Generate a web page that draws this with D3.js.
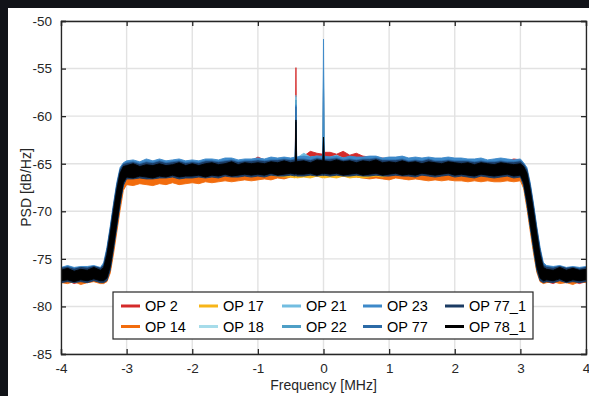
<!DOCTYPE html>
<html><head><meta charset="utf-8">
<script src="https://cdn.jsdelivr.net/npm/d3@7"></script>
<style>body{margin:0;background:#111318;} svg{display:block}</style>
</head><body>
<svg id="chart" width="589" height="396"></svg>
<script>
// Frequency grid [MHz]
const freq = [
-4.0,-3.9,-3.8,-3.7,-3.6,-3.5,-3.4,
-3.35,-3.3,-3.25,-3.2,-3.15,-3.1,-3.05,
-3.0,-2.9,-2.8,-2.7,-2.6,-2.5,-2.4,-2.3,-2.2,-2.1,
-2.0,-1.9,-1.8,-1.7,-1.6,-1.5,-1.4,-1.3,-1.2,-1.1,
-1.0,-0.9,-0.8,-0.7,-0.6,-0.5,
-0.43,-0.42,-0.41,
-0.3,-0.2,-0.1,
-0.01,0,0.01,
0.1,0.2,0.3,0.4,0.5,0.6,0.7,0.8,0.9,1.0,
1.1,1.2,1.3,1.4,1.5,1.6,1.7,1.8,1.9,2.0,
2.1,2.2,2.3,2.4,2.5,2.6,2.7,2.8,2.9,3.0,
3.05,3.1,3.15,3.2,3.25,3.3,3.35,
3.4,3.5,3.6,3.7,3.8,3.9,4.0];

// Upper / lower edges of each PSD trace [dB/Hz]
const op2Hi = [
-76.1,-76.0,-76.2,-76.0,-76.1,-75.9,-76.1,
-75.8,-74.5,-72.5,-70.2,-68.0,-66.2,-65.4,
-65.1,-65.0,-65.2,-65.0,-65.1,-64.9,-65.1,-65.0,-64.9,-65.1,
-65.0,-65.0,-64.9,-64.8,-64.9,-64.8,-64.7,-64.9,-64.8,-64.7,
-64.3,-64.6,-64.5,-64.5,-64.4,-64.5,
-64.4,-54.9,-64.4,
-64.2,-63.7,-63.9,
-64.0,-57.0,-63.8,
-63.8,-64.0,-63.7,-64.1,-63.9,-64.2,-64.3,-64.5,-64.4,-64.6,
-64.6,-64.7,-64.6,-64.8,-64.7,-64.8,-64.7,-64.8,-64.8,-64.7,
-64.8,-64.7,-64.8,-64.7,-64.8,-64.6,-64.5,-64.7,-64.5,-64.6,
-65.0,-65.8,-67.6,-69.8,-72.2,-74.4,-75.8,
-76.0,-76.1,-75.9,-76.2,-76.0,-76.1,-76.0];
const op2Lo = [
-77.5,-77.3,-77.6,-77.4,-77.5,-77.3,-77.4,
-77.4,-77.1,-76.0,-73.8,-71.5,-69.1,-67.2,
-66.5,-66.5,-66.4,-66.5,-66.5,-66.4,-66.4,-66.3,-66.5,-66.4,
-66.4,-66.3,-66.4,-66.3,-66.4,-66.2,-66.3,-66.3,-66.2,-66.3,
-66.2,-66.3,-66.1,-66.2,-66.2,-66.1,
-66.2,-66.1,-66.2,
-66.2,-66.1,-66.2,
-66.1,-66.2,-66.1,
-66.2,-66.1,-66.2,-66.2,-66.1,-66.2,-66.2,-66.1,-66.2,-66.2,
-66.1,-66.2,-66.2,-66.3,-66.1,-66.2,-66.3,-66.2,-66.1,-66.3,
-66.2,-66.3,-66.4,-66.2,-66.3,-66.4,-66.3,-66.2,-66.4,-66.3,
-67.2,-69.1,-71.5,-73.8,-76.0,-77.2,-77.5,
-77.4,-77.6,-77.3,-77.5,-77.4,-77.6,-77.4];

const op14Hi = [
-76.1,-75.9,-76.2,-76.0,-76.1,-75.9,-76.1,
-75.9,-74.8,-72.9,-70.7,-68.6,-66.8,-66.0,
-65.8,-65.7,-65.9,-65.7,-65.8,-65.6,-65.8,-65.7,-65.6,-65.7,
-65.6,-65.7,-65.6,-65.5,-65.6,-65.5,-65.4,-65.6,-65.5,-65.5,
-65.4,-65.5,-65.3,-65.4,-65.3,-65.4,
-65.3,-61.0,-65.3,
-65.3,-65.2,-65.3,
-65.2,-60.0,-65.2,
-65.3,-65.2,-65.4,-65.3,-65.3,-65.4,-65.4,-65.3,-65.5,-65.4,
-65.4,-65.5,-65.4,-65.5,-65.6,-65.5,-65.6,-65.5,-65.6,-65.6,
-65.6,-65.7,-65.6,-65.7,-65.8,-65.7,-65.6,-65.7,-65.8,-65.7,
-66.0,-66.8,-68.6,-70.7,-72.9,-74.8,-75.9,
-76.0,-76.1,-75.9,-76.2,-76.0,-76.1,-76.0];
const op14Lo = [
-77.5,-77.6,-77.4,-77.7,-77.5,-77.4,-77.6,
-77.6,-77.4,-76.5,-74.5,-72.2,-69.9,-67.8,
-67.2,-67.3,-67.1,-67.2,-67.3,-67.1,-67.2,-67.0,-67.2,-67.1,
-67.0,-67.1,-66.9,-67.0,-66.9,-66.8,-66.9,-66.8,-66.7,-66.8,
-66.7,-66.6,-66.7,-66.5,-66.6,-66.4,
-66.4,-66.3,-66.4,
-66.3,-66.2,-66.3,
-66.2,-66.3,-66.2,
-66.3,-66.2,-66.3,-66.4,-66.4,-66.5,-66.6,-66.5,-66.6,-66.7,
-66.5,-66.6,-66.7,-66.6,-66.7,-66.8,-66.7,-66.8,-66.7,-66.8,
-66.8,-66.9,-66.8,-66.9,-66.8,-66.9,-66.9,-66.8,-66.9,-66.8,
-67.6,-69.7,-72.1,-74.4,-76.4,-77.4,-77.6,
-77.5,-77.4,-77.6,-77.5,-77.7,-77.4,-77.5];

const op17Hi = [
-76.2,-76.0,-76.2,-76.1,-76.1,-76.0,-76.2,
-75.9,-74.7,-72.7,-70.4,-68.2,-66.4,-65.6,
-65.4,-65.3,-65.5,-65.3,-65.4,-65.2,-65.4,-65.3,-65.2,-65.4,
-65.3,-65.4,-65.2,-65.2,-65.3,-65.2,-65.1,-65.3,-65.2,-65.2,
-65.1,-65.2,-65.0,-65.1,-65.0,-65.1,
-65.0,-60.5,-65.0,
-65.0,-65.1,-64.9,
-65.0,-59.0,-65.0,
-65.0,-64.9,-65.1,-65.0,-65.1,-65.0,-65.0,-64.9,-65.1,-65.1,
-65.1,-65.0,-65.2,-65.1,-65.2,-65.0,-65.2,-65.2,-65.1,-65.2,
-65.2,-65.2,-65.3,-65.2,-65.3,-65.3,-65.2,-65.3,-65.3,-65.2,
-65.6,-66.4,-68.2,-70.4,-72.7,-74.7,-75.9,
-76.0,-76.1,-76.0,-76.2,-76.1,-76.2,-76.1];
const op17Lo = [
-77.4,-77.3,-77.5,-77.3,-77.4,-77.2,-77.4,
-77.4,-77.1,-76.0,-73.8,-71.5,-69.1,-67.2,
-66.5,-66.5,-66.4,-66.5,-66.5,-66.4,-66.4,-66.3,-66.5,-66.4,
-66.4,-66.3,-66.4,-66.3,-66.4,-66.2,-66.3,-66.3,-66.2,-66.3,
-66.2,-66.3,-66.2,-66.3,-66.4,-66.4,
-66.5,-66.4,-66.5,
-66.4,-66.5,-66.3,
-66.5,-66.4,-66.5,
-66.4,-66.5,-66.3,-66.5,-66.4,-66.5,-66.4,-66.3,-66.4,-66.2,
-66.1,-66.2,-66.2,-66.3,-66.1,-66.2,-66.3,-66.2,-66.1,-66.3,
-66.2,-66.3,-66.4,-66.2,-66.3,-66.4,-66.3,-66.2,-66.4,-66.3,
-67.3,-69.3,-71.7,-74.0,-76.2,-77.2,-77.4,
-77.3,-77.4,-77.2,-77.4,-77.3,-77.4,-77.3];

const op18Hi = [
-76.1,-75.9,-76.1,-76.0,-76.0,-75.9,-76.1,
-75.8,-74.3,-72.2,-69.8,-67.6,-65.9,-65.2,
-65.0,-64.9,-65.1,-64.9,-65.0,-64.8,-65.0,-64.9,-64.8,-65.0,
-64.9,-64.9,-64.8,-64.8,-64.9,-64.8,-64.7,-64.9,-64.8,-64.8,
-64.7,-64.7,-64.6,-64.6,-64.5,-64.6,
-64.5,-58.0,-64.5,
-64.5,-64.5,-64.4,
-64.5,-57.0,-64.5,
-64.5,-64.5,-64.6,-64.5,-64.6,-64.6,-64.5,-64.5,-64.6,-64.6,
-64.7,-64.6,-64.7,-64.7,-64.8,-64.6,-64.7,-64.8,-64.7,-64.8,
-64.8,-64.8,-64.9,-64.8,-64.9,-64.9,-64.8,-64.9,-64.9,-64.8,
-65.2,-65.9,-67.6,-69.8,-72.2,-74.3,-75.8,
-76.0,-76.1,-75.9,-76.1,-76.0,-76.1,-76.0];
const op18Lo = [
-77.3,-77.2,-77.3,-77.2,-77.3,-77.1,-77.3,
-77.3,-77.0,-75.9,-73.7,-71.4,-69.0,-67.1,
-66.4,-66.4,-66.3,-66.4,-66.4,-66.3,-66.3,-66.2,-66.4,-66.3,
-66.3,-66.2,-66.3,-66.2,-66.3,-66.1,-66.2,-66.2,-66.1,-66.2,
-66.1,-66.2,-66.0,-66.1,-66.1,-66.0,
-66.1,-66.0,-66.1,
-66.1,-66.0,-66.1,
-66.0,-66.1,-66.0,
-66.1,-66.0,-66.1,-66.1,-66.0,-66.1,-66.1,-66.0,-66.1,-66.1,
-66.0,-66.1,-66.1,-66.2,-66.0,-66.1,-66.2,-66.1,-66.0,-66.2,
-66.1,-66.2,-66.3,-66.1,-66.2,-66.3,-66.2,-66.1,-66.3,-66.2,
-67.1,-69.0,-71.4,-73.7,-75.9,-77.0,-77.3,
-77.2,-77.3,-77.1,-77.3,-77.2,-77.3,-77.2];

const op21Hi = [
-76.0,-75.9,-76.0,-75.9,-76.1,-75.8,-76.0,
-75.7,-74.2,-72.1,-69.7,-67.5,-65.8,-65.1,
-64.9,-64.8,-65.0,-64.8,-64.9,-64.7,-64.9,-64.8,-64.7,-64.9,
-64.8,-64.8,-64.7,-64.7,-64.8,-64.6,-64.6,-64.8,-64.7,-64.7,
-64.6,-64.6,-64.5,-64.5,-64.4,-64.5,
-64.4,-57.8,-64.4,
-63.9,-64.3,-64.2,
-64.3,-56.0,-64.3,
-64.3,-64.1,-64.4,-64.3,-64.4,-64.4,-64.3,-64.3,-64.5,-64.5,
-64.6,-64.5,-64.6,-64.6,-64.7,-64.5,-64.6,-64.7,-64.6,-64.7,
-64.7,-64.7,-64.8,-64.7,-64.8,-64.8,-64.7,-64.8,-64.8,-64.7,
-65.1,-65.8,-67.5,-69.7,-72.1,-74.2,-75.7,
-75.9,-76.0,-75.9,-76.0,-75.9,-76.0,-75.9];
const op21Lo = [
-77.3,-77.2,-77.4,-77.2,-77.3,-77.2,-77.3,
-77.3,-77.0,-75.9,-73.7,-71.4,-69.0,-67.1,
-66.4,-66.3,-66.3,-66.4,-66.3,-66.3,-66.4,-66.2,-66.3,-66.3,
-66.2,-66.2,-66.3,-66.2,-66.2,-66.1,-66.2,-66.1,-66.1,-66.2,
-66.1,-66.1,-66.0,-66.1,-66.0,-66.0,
-66.0,-66.0,-66.0,
-66.0,-66.0,-66.1,
-66.0,-66.0,-66.0,
-66.0,-66.1,-66.0,-66.1,-66.0,-66.1,-66.0,-66.0,-66.1,-66.0,
-66.0,-66.1,-66.0,-66.1,-66.0,-66.1,-66.1,-66.0,-66.0,-66.1,
-66.1,-66.1,-66.2,-66.1,-66.2,-66.2,-66.1,-66.1,-66.2,-66.2,
-67.1,-69.0,-71.4,-73.7,-75.9,-77.0,-77.3,
-77.2,-77.3,-77.2,-77.3,-77.2,-77.3,-77.2];

const op22Hi = [
-76.1,-75.9,-76.0,-76.0,-76.0,-75.9,-76.0,
-75.7,-74.2,-72.1,-69.7,-67.5,-65.8,-65.1,
-64.9,-64.9,-65.0,-64.8,-64.9,-64.8,-64.9,-64.8,-64.8,-64.9,
-64.8,-64.9,-64.7,-64.7,-64.8,-64.7,-64.6,-64.8,-64.7,-64.7,
-64.6,-64.6,-64.5,-64.5,-64.4,-64.5,
-64.4,-58.3,-64.4,
-64.3,-64.4,-64.3,
-64.4,-55.0,-64.4,
-64.4,-64.3,-64.5,-64.3,-64.4,-64.4,-64.3,-64.3,-64.5,-64.4,
-64.5,-64.4,-64.6,-64.5,-64.6,-64.5,-64.6,-64.6,-64.5,-64.6,
-64.6,-64.7,-64.7,-64.6,-64.8,-64.7,-64.6,-64.7,-64.8,-64.7,
-65.1,-65.8,-67.5,-69.7,-72.1,-74.2,-75.7,
-75.9,-76.0,-75.9,-76.1,-75.9,-76.0,-75.9];
const op22Lo = [
-77.4,-77.2,-77.3,-77.3,-77.3,-77.2,-77.4,
-77.3,-77.0,-75.9,-73.7,-71.4,-69.0,-67.1,
-66.3,-66.4,-66.3,-66.3,-66.4,-66.3,-66.3,-66.2,-66.4,-66.3,
-66.3,-66.2,-66.2,-66.2,-66.3,-66.1,-66.2,-66.2,-66.1,-66.1,
-66.1,-66.1,-66.0,-66.1,-66.1,-66.0,
-66.0,-66.0,-66.0,
-66.1,-66.0,-66.0,
-66.0,-66.1,-66.0,
-66.1,-66.0,-66.0,-66.1,-66.0,-66.0,-66.1,-66.0,-66.1,-66.1,
-66.0,-66.0,-66.1,-66.1,-66.0,-66.1,-66.1,-66.1,-66.0,-66.1,
-66.1,-66.2,-66.2,-66.1,-66.1,-66.2,-66.2,-66.1,-66.2,-66.1,
-67.1,-69.0,-71.4,-73.7,-75.9,-77.0,-77.3,
-77.3,-77.3,-77.2,-77.3,-77.2,-77.4,-77.3];

const op23Hi = [
-75.9,-75.7,-75.9,-75.8,-75.8,-75.7,-75.9,
-75.4,-73.8,-71.6,-69.2,-67.0,-65.4,-64.9,
-64.7,-64.6,-64.8,-64.5,-64.7,-64.5,-64.7,-64.6,-64.5,-64.7,
-64.6,-64.7,-64.5,-64.5,-64.6,-64.4,-64.4,-64.6,-64.5,-64.5,
-64.4,-64.5,-64.3,-64.4,-64.3,-64.4,
-64.3,-58.8,-64.3,
-64.2,-64.3,-64.2,
-64.2,-51.9,-64.2,
-64.3,-64.2,-64.4,-64.2,-64.3,-64.3,-64.2,-64.2,-64.4,-64.3,
-64.3,-64.2,-64.4,-64.3,-64.4,-64.3,-64.4,-64.4,-64.3,-64.4,
-64.4,-64.5,-64.5,-64.4,-64.6,-64.5,-64.4,-64.5,-64.6,-64.5,
-64.9,-65.4,-67.0,-69.2,-71.6,-73.8,-75.4,
-75.7,-75.8,-75.7,-75.9,-75.8,-75.9,-75.8];
const op23Lo = [
-77.3,-77.3,-77.4,-77.2,-77.3,-77.2,-77.3,
-77.3,-77.1,-75.9,-73.7,-71.4,-69.0,-67.1,
-66.4,-66.4,-66.3,-66.4,-66.4,-66.3,-66.3,-66.3,-66.4,-66.3,
-66.3,-66.2,-66.3,-66.2,-66.3,-66.2,-66.2,-66.2,-66.1,-66.2,
-66.1,-66.2,-66.0,-66.1,-66.1,-66.0,
-66.1,-66.0,-66.1,
-66.1,-66.0,-66.1,
-66.0,-66.1,-66.0,
-66.1,-66.0,-66.1,-66.1,-66.0,-66.1,-66.1,-66.0,-66.1,-66.1,
-66.0,-66.1,-66.1,-66.2,-66.0,-66.1,-66.2,-66.1,-66.0,-66.2,
-66.1,-66.2,-66.3,-66.1,-66.2,-66.3,-66.2,-66.1,-66.3,-66.2,
-67.1,-69.0,-71.4,-73.7,-75.9,-77.1,-77.3,
-77.2,-77.3,-77.2,-77.4,-77.3,-77.3,-77.2];

const op77Hi = [
-76.0,-75.8,-76.0,-75.9,-75.9,-75.8,-76.0,
-75.6,-74.0,-71.8,-69.4,-67.2,-65.6,-65.0,
-64.9,-64.8,-65.0,-64.8,-64.9,-64.7,-64.9,-64.8,-64.7,-64.9,
-64.8,-64.9,-64.7,-64.7,-64.8,-64.7,-64.6,-64.8,-64.7,-64.7,
-64.6,-64.7,-64.6,-64.6,-64.5,-64.6,
-64.5,-59.0,-64.5,
-64.5,-64.6,-64.4,
-64.5,-62.5,-64.5,
-64.5,-64.4,-64.6,-64.5,-64.6,-64.5,-64.5,-64.4,-64.6,-64.6,
-64.6,-64.5,-64.7,-64.6,-64.7,-64.5,-64.7,-64.7,-64.6,-64.7,
-64.7,-64.7,-64.8,-64.7,-64.8,-64.8,-64.7,-64.8,-64.8,-64.7,
-65.0,-65.6,-67.2,-69.4,-71.8,-74.0,-75.6,
-75.8,-75.9,-75.8,-76.0,-75.9,-76.0,-75.9];
const op77Lo = [
-77.4,-77.3,-77.4,-77.3,-77.4,-77.2,-77.4,
-77.4,-77.2,-76.0,-73.8,-71.5,-69.1,-67.2,
-66.5,-66.5,-66.4,-66.5,-66.5,-66.4,-66.4,-66.3,-66.5,-66.4,
-66.4,-66.3,-66.4,-66.3,-66.4,-66.2,-66.3,-66.3,-66.2,-66.3,
-66.2,-66.3,-66.1,-66.2,-66.2,-66.1,
-66.2,-66.1,-66.2,
-66.2,-66.1,-66.2,
-66.1,-66.2,-66.1,
-66.2,-66.1,-66.2,-66.2,-66.1,-66.2,-66.2,-66.1,-66.2,-66.2,
-66.1,-66.2,-66.2,-66.3,-66.1,-66.2,-66.3,-66.2,-66.1,-66.3,
-66.2,-66.3,-66.4,-66.2,-66.3,-66.4,-66.3,-66.2,-66.4,-66.3,
-67.2,-69.1,-71.5,-73.8,-76.0,-77.2,-77.4,
-77.3,-77.4,-77.2,-77.4,-77.3,-77.4,-77.3];

const op77_1Hi = [
-76.0,-75.9,-76.1,-75.9,-76.0,-75.8,-76.0,
-75.7,-74.2,-72.0,-69.6,-67.4,-65.7,-65.1,
-65.0,-64.9,-65.1,-64.9,-65.0,-64.8,-65.0,-64.9,-64.8,-65.0,
-64.9,-65.0,-64.8,-64.8,-64.9,-64.8,-64.7,-64.9,-64.8,-64.8,
-64.7,-64.8,-64.7,-64.7,-64.6,-64.7,
-64.6,-60.6,-64.6,
-64.6,-64.7,-64.5,
-64.6,-62.6,-64.6,
-64.6,-64.5,-64.7,-64.6,-64.7,-64.6,-64.6,-64.5,-64.7,-64.7,
-64.7,-64.6,-64.8,-64.7,-64.8,-64.6,-64.8,-64.8,-64.7,-64.8,
-64.8,-64.8,-64.9,-64.8,-64.9,-64.9,-64.8,-64.9,-64.9,-64.8,
-65.1,-65.7,-67.4,-69.6,-72.0,-74.2,-75.7,
-75.9,-76.0,-75.8,-76.0,-75.9,-76.1,-75.9];
const op77_1Lo = [
-77.5,-77.4,-77.5,-77.4,-77.5,-77.3,-77.5,
-77.5,-77.3,-76.2,-74.0,-71.7,-69.3,-67.3,
-66.6,-66.6,-66.5,-66.6,-66.6,-66.5,-66.5,-66.4,-66.6,-66.5,
-66.5,-66.4,-66.5,-66.4,-66.5,-66.3,-66.4,-66.4,-66.3,-66.4,
-66.3,-66.4,-66.2,-66.3,-66.3,-66.2,
-66.3,-66.2,-66.3,
-66.3,-66.2,-66.3,
-66.2,-66.3,-66.2,
-66.3,-66.2,-66.3,-66.3,-66.2,-66.3,-66.3,-66.2,-66.3,-66.3,
-66.2,-66.3,-66.3,-66.4,-66.2,-66.3,-66.4,-66.3,-66.2,-66.4,
-66.3,-66.4,-66.5,-66.3,-66.4,-66.5,-66.4,-66.3,-66.5,-66.4,
-67.3,-69.3,-71.7,-74.0,-76.2,-77.3,-77.5,
-77.4,-77.5,-77.3,-77.5,-77.4,-77.5,-77.4];

const op78_1Hi = [
-76.2,-76.0,-76.3,-76.1,-76.2,-75.9,-76.2,
-75.9,-74.6,-72.4,-70.0,-67.8,-66.0,-65.3,
-65.2,-65.0,-65.3,-65.1,-65.2,-65.0,-65.2,-65.1,-64.9,-65.2,
-65.0,-65.2,-65.0,-64.9,-65.1,-65.0,-64.8,-65.1,-64.9,-65.0,
-64.9,-65.0,-64.8,-64.9,-64.7,-64.9,
-64.8,-60.4,-64.8,
-64.7,-64.9,-64.6,
-64.7,-62.2,-64.7,
-64.8,-64.6,-64.8,-64.7,-64.9,-64.7,-64.8,-64.6,-64.9,-64.8,
-64.9,-64.7,-64.9,-64.8,-65.0,-64.8,-64.9,-65.0,-64.8,-64.9,
-65.0,-64.9,-65.1,-64.9,-65.0,-65.1,-64.9,-65.0,-65.1,-65.0,
-65.3,-66.0,-67.8,-70.0,-72.4,-74.6,-75.9,
-76.1,-76.2,-75.9,-76.2,-76.0,-76.2,-76.1];
const op78_1Lo = [
-77.3,-77.2,-77.4,-77.2,-77.3,-77.1,-77.3,
-77.3,-77.0,-75.8,-73.6,-71.3,-68.9,-67.0,
-66.4,-66.5,-66.3,-66.4,-66.5,-66.3,-66.4,-66.2,-66.4,-66.3,
-66.3,-66.2,-66.4,-66.2,-66.3,-66.1,-66.3,-66.2,-66.1,-66.2,
-66.1,-66.2,-66.0,-66.2,-66.1,-66.0,
-66.1,-66.0,-66.1,
-66.1,-66.0,-66.2,
-66.0,-66.1,-66.0,
-66.1,-66.0,-66.2,-66.1,-66.0,-66.2,-66.1,-66.0,-66.2,-66.1,
-66.0,-66.2,-66.1,-66.2,-66.0,-66.1,-66.2,-66.1,-66.0,-66.2,
-66.1,-66.2,-66.3,-66.1,-66.2,-66.3,-66.2,-66.1,-66.3,-66.2,
-67.0,-68.9,-71.3,-73.6,-75.8,-77.0,-77.3,
-77.2,-77.3,-77.1,-77.4,-77.2,-77.3,-77.2];

const seriesNames = ["OP 2","OP 14","OP 17","OP 18","OP 21","OP 22","OP 23","OP 77","OP 77_1","OP 78_1"];
const seriesHi = [op2Hi, op14Hi, op17Hi, op18Hi, op21Hi, op22Hi, op23Hi, op77Hi, op77_1Hi, op78_1Hi];
const seriesLo = [op2Lo, op14Lo, op17Lo, op18Lo, op21Lo, op22Lo, op23Lo, op77Lo, op77_1Lo, op78_1Lo];
const xTicks = [-4,-3,-2,-1,0,1,2,3,4];
const yTicks = [-85,-80,-75,-70,-65,-60,-55,-50];

// styles
const colors = ["#d42a2a","#f26c0d","#f7b518","#a6dcea","#72bde0","#4e9fc6","#3d89c9","#2b6aa6","#1b3b63","#000000"];
const axisColor = "#262626";
const font = "'Liberation Sans', Arial, Helvetica, sans-serif";

const svg = d3.select("#chart");
svg.append("rect").attr("width",589).attr("height",396).attr("fill","#111318");
svg.append("rect").attr("x",8).attr("y",8).attr("width",581).attr("height",388).attr("fill","#ffffff");

const x = d3.scaleLinear().domain([-4,4]).range([61,586]);
const y = d3.scaleLinear().domain([-85,-50]).range([354,21]);
const [x0,x1] = x.range(), [y0,y1] = y.range();

// grid
const grid = svg.append("g");
grid.selectAll(".gx").data(xTicks).join("line")
  .attr("x1",d=>x(d)).attr("x2",d=>x(d)).attr("y1",y0).attr("y2",y1)
  .attr("stroke","#e2e2e2").attr("stroke-width",1.4);
grid.selectAll(".gy").data(yTicks).join("line")
  .attr("y1",d=>y(d)).attr("y2",d=>y(d)).attr("x1",x0).attr("x2",x1)
  .attr("stroke","#e2e2e2").attr("stroke-width",1.4);

svg.append("clipPath").attr("id","clip").append("rect")
  .attr("x",x0).attr("y",y1).attr("width",x1-x0).attr("height",y0-y1);

const area = d3.area().x(d=>x(d.f)).y0(d=>y(d.lo)).y1(d=>y(d.hi));
const plot = svg.append("g").attr("clip-path","url(#clip)");
seriesNames.forEach((name,i)=>{
  const pts = freq.map((f,j)=>({f, hi: seriesHi[i][j], lo: seriesLo[i][j]}));
  plot.append("path").datum(pts).attr("d",area)
    .attr("fill",colors[i]).attr("stroke",colors[i]).attr("stroke-width",0.9)
    .attr("stroke-linejoin","miter");
});

// axes
const ax = svg.append("g");
ax.append("g").attr("transform",`translate(0,${y0})`)
  .call(d3.axisBottom(x).tickValues(xTicks).tickSize(-5).tickPadding(9).tickFormat(d3.format("d")));
ax.append("g").attr("transform",`translate(0,${y1})`)
  .call(d3.axisTop(x).tickValues(xTicks).tickSize(-5).tickFormat(""));
ax.append("g").attr("transform",`translate(${x0},0)`)
  .call(d3.axisLeft(y).tickValues(yTicks).tickSize(-5).tickPadding(9).tickFormat(d3.format("d")));
ax.append("g").attr("transform",`translate(${x1},0)`)
  .call(d3.axisRight(y).tickValues(yTicks).tickSize(-5).tickFormat(""));
ax.selectAll(".domain").attr("stroke",axisColor).attr("stroke-width",1.3);
ax.selectAll(".tick line").attr("stroke",axisColor).attr("stroke-width",1.3);
ax.selectAll(".tick text").attr("fill",axisColor).style("font-family",font).style("font-size","13.5px");
ax.selectAll(".tick text").text(function(){ return this.textContent.replace("−","-"); });

svg.append("text").attr("x",(x0+x1)/2).attr("y",390).attr("text-anchor","middle")
  .attr("fill",axisColor).style("font-family",font).style("font-size","14px").text("Frequency [MHz]");
svg.append("text").attr("transform",`translate(31,${(y0+y1)/2}) rotate(-90)`).attr("text-anchor","middle")
  .attr("fill",axisColor).style("font-family",font).style("font-size","14px").text("PSD [dB/Hz]");

// legend
const lg = svg.append("g");
lg.append("rect").attr("x",113).attr("y",292).attr("width",420).attr("height",47)
  .attr("fill","#fff").attr("stroke",axisColor).attr("stroke-width",1.2);
const colX = [121,199,282,363,445];
const rowY = [306,326.5];
seriesNames.forEach((name,i)=>{
  const c = Math.floor(i/2), r = i%2;
  lg.append("line").attr("x1",colX[c]).attr("x2",colX[c]+19).attr("y1",rowY[r]).attr("y2",rowY[r])
    .attr("stroke",colors[i]).attr("stroke-width",3);
  lg.append("text").attr("x",colX[c]+24).attr("y",rowY[r]+5).attr("fill","#000")
    .style("font-family",font).style("font-size","14.5px").text(name);
});
</script>
</body></html>
